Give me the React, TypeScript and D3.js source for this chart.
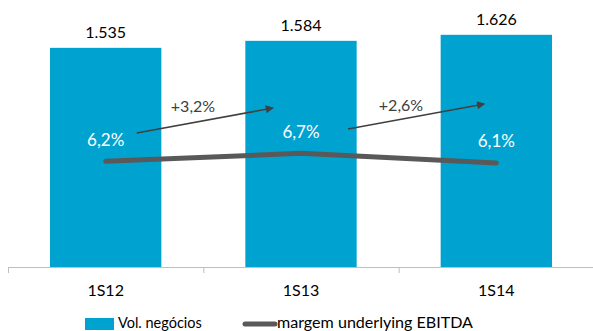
import React from "react";
import * as d3 from "d3";

const categories = ["1S12", "1S13", "1S14"];
const volNegocios = [1535, 1584, 1626];
const volLabels = ["1.535", "1.584", "1.626"];
const margem = [6.2, 6.7, 6.1];
const margemLabels = ["6,2%", "6,7%", "6,1%"];
const growthLabels = ["+3,2%", "+2,6%"];
const legendLabels = ["Vol. negócios", "margem underlying EBITDA"];

const W = 593;
const H = 331;
const FONT = "Lato, 'Open Sans', sans-serif";
const BAR = "#00a3d0";
const LINE = "#595959";

export default function App() {
  const x = d3.scaleBand<string>().domain(categories).range([8, 594]).paddingInner(0.43).paddingOuter(0.215);
  const band = d3.scaleBand<string>().domain(categories).range([8, 594]);
  const y = d3.scaleLinear().domain([0, 1800]).range([267.5, 267.5 - 1800 * 0.1431]);
  const y2 = d3.scaleLinear().domain([5, 8]).range([180.5, 132.5]);
  const cx = (c: string) => (band(c) as number) + band.bandwidth() / 2;

  const line = d3
    .line<number>()
    .x((_, i) => cx(categories[i]))
    .y((d) => y2(d));

  const arrows = [
    { x1: cx(categories[0]) + 31, y1: 133, x2: cx(categories[1]) - 28, y2: 108, tx: 193, ty: 112 },
    { x1: cx(categories[1]) + 47, y1: 129, x2: cx(categories[2]) - 12, y2: 104, tx: 401, ty: 111 },
  ];

  return (
    <svg width={W} height={H} style={{ position: "absolute", left: 0, top: 0, display: "block" }}>
      <defs>
        <marker id="ah" viewBox="0 0 10 10" refX="9" refY="5" markerWidth="10" markerHeight="8" markerUnits="userSpaceOnUse" orient="auto">
          <path d="M0,0 L10,5 L0,10 z" fill="#404040" />
        </marker>
      </defs>
      {categories.map((c, i) => (
        <rect key={c} x={x(c)} y={y(volNegocios[i])} width={x.bandwidth()} height={y(0) - y(volNegocios[i])} fill={BAR} />
      ))}
      {categories.map((c, i) => (
        <text key={"v" + c} x={cx(c)} y={y(volNegocios[i]) - 10} textAnchor="middle" fontFamily={FONT} fontSize={16} fill="#000">
          {volLabels[i]}
        </text>
      ))}
      <line x1={8} x2={593} y1={267.5} y2={267.5} stroke="#bfbfbf" strokeWidth={1} />
      {[0, 1, 2, 3].map((i) => (
        <line key={"t" + i} x1={8 + i * band.bandwidth() + 0.5} x2={8 + i * band.bandwidth() + 0.5} y1={267.5} y2={273} stroke="#bfbfbf" />
      ))}
      {categories.map((c) => (
        <text key={"c" + c} x={cx(c)} y={296} textAnchor="middle" fontFamily={FONT} fontSize={16} fill="#000">
          {c}
        </text>
      ))}
      <path d={line(margem) || ""} fill="none" stroke={LINE} strokeWidth={5} strokeLinecap="round" strokeLinejoin="round" />
      {categories.map((c, i) => (
        <text key={"m" + c} x={cx(c)} y={y2(margem[i]) - 15.5} textAnchor="middle" fontFamily={FONT} fontSize={17} fill="#fff">
          {margemLabels[i]}
        </text>
      ))}
      {arrows.map((a, i) => (
        <g key={"a" + i}>
          <line x1={a.x1} y1={a.y1} x2={a.x2} y2={a.y2} stroke="#404040" strokeWidth={1.5} markerEnd="url(#ah)" />
          <text x={a.tx} y={a.ty} textAnchor="middle" fontFamily={FONT} fontSize={16} fill="#404040">
            {growthLabels[i]}
          </text>
        </g>
      ))}
      <rect x={85} y={318} width={29} height={12} fill={BAR} />
      <text x={118} y={327.5} fontFamily={FONT} fontSize={14.5} fill="#000">
        {legendLabels[0]}
      </text>
      <line x1={245} x2={275} y1={324} y2={324} stroke={LINE} strokeWidth={5} strokeLinecap="round" />
      <text x={277} y={327.5} fontFamily={FONT} fontSize={14.5} textLength={196} lengthAdjust="spacingAndGlyphs" fill="#000">
        {legendLabels[1]}
      </text>
    </svg>
  );
}
